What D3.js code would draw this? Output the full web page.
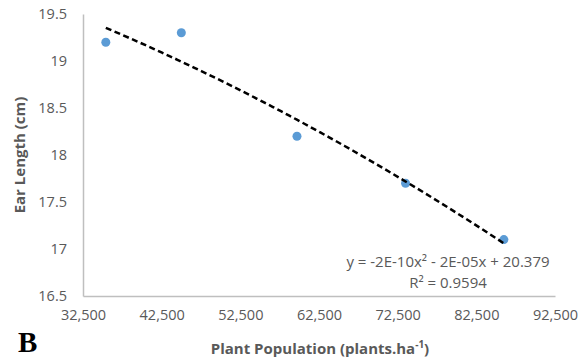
<!DOCTYPE html>
<html>
<head>
<meta charset="utf-8">
<script src="https://cdn.jsdelivr.net/npm/d3@7"></script>
<style>
  body { margin: 0; background: #fff; }
  text { font-family: "Open Sans", sans-serif; }
</style>
</head>
<body>
<svg id="chart" width="588" height="364"></svg>
<script>
// Data
const population = [35400, 45000, 59700, 73500, 86000];
const earLength = [19.2, 19.3, 18.2, 17.7, 17.1];
const xTicks = [32500, 42500, 52500, 62500, 72500, 82500, 92500];
const yTicks = [16.5, 17, 17.5, 18, 18.5, 19, 19.5];
const equation = ['y = -2E-10x\u00b2 - 2E-05x + 20.379', 'R\u00b2 = 0.9594'];

const margin = {left: 83, right: 33, top: 14, bottom: 68},
    width = 588 - margin.left - margin.right,
    height = 364 - margin.top - margin.bottom;

const svg = d3.select('#chart');
const g = svg.append('g').attr('transform', `translate(${margin.left},${margin.top})`);

const x = d3.scaleLinear().domain([32500, 92500]).range([0, width]);
const y = d3.scaleLinear().domain([16.5, 19.5]).range([height, 0]);

// Axes
const xAxis = g.append('g')
    .attr('transform', `translate(0,${height})`)
    .call(d3.axisBottom(x).tickValues(xTicks).tickSize(0).tickPadding(14)
      .tickFormat(d3.format(',')));
const yAxis = g.append('g')
    .call(d3.axisLeft(y).tickValues(yTicks).tickSize(0).tickPadding(16)
      .tickFormat(d => d3.format('')(d)));

[xAxis, yAxis].forEach(a => {
  a.select('.domain').attr('stroke', '#bfbfbf').attr('stroke-width', 1.5);
  a.selectAll('text').attr('fill', '#595959').style('font-size', '14.5px')
      .style('font-family', '"Open Sans", sans-serif');
});

// Quadratic least-squares trendline
function quadFit(xs, ys) {
  const s = [0, 0, 0, 0, 0], t = [0, 0, 0];
  xs.forEach((xv, i) => {
    const u = xv / 1e4;
    for (let k = 0; k < 5; k++) s[k] += Math.pow(u, k);
    for (let k = 0; k < 3; k++) t[k] += ys[i] * Math.pow(u, k);
  });
  const A = [[s[0], s[1], s[2], t[0]], [s[1], s[2], s[3], t[1]], [s[2], s[3], s[4], t[2]]];
  for (let i = 0; i < 3; i++) {
    for (let j = i + 1; j < 3; j++) {
      const f = A[j][i] / A[i][i];
      for (let k = i; k < 4; k++) A[j][k] -= f * A[i][k];
    }
  }
  const c = [0, 0, 0];
  for (let i = 2; i >= 0; i--) {
    let v = A[i][3];
    for (let k = i + 1; k < 3; k++) v -= A[i][k] * c[k];
    c[i] = v / A[i][i];
  }
  return xv => { const u = xv / 1e4; return c[0] + c[1] * u + c[2] * u * u; };
}
const fit = quadFit(population, earLength);
const fitPts = d3.range(0, 51).map(i => {
  const xv = population[0] + (population[population.length - 1] - population[0]) * i / 50;
  return [xv, fit(xv)];
});

// Points
g.selectAll('circle')
    .data(population)
    .enter()
    .append('circle')
    .attr('cx', d => x(d))
    .attr('cy', (d, i) => y(earLength[i]))
    .attr('r', 4.5)
    .attr('fill', '#5b9bd5');

g.append('path')
    .datum(fitPts)
    .attr('fill', 'none')
    .attr('stroke', '#000')
    .attr('stroke-width', 2.5)
    .attr('stroke-dasharray', '6,3.5')
    .attr('d', d3.line().x(d => x(d[0])).y(d => y(d[1])));

// Equation label
g.selectAll('.eq')
    .data(equation)
    .enter()
    .append('text')
    .attr('class', 'eq')
    .attr('x', 365)
    .attr('y', (d, i) => 253 + i * 21)
    .attr('text-anchor', 'middle')
    .attr('fill', '#595959')
    .style('font-size', '15px')
    .text(d => d);

// Axis titles
const xt = svg.append('text')
    .attr('x', margin.left + width / 2 + 1)
    .attr('y', 354)
    .attr('text-anchor', 'middle')
    .attr('fill', '#595959')
    .style('font-size', '15px')
    .style('font-weight', 'bold');
xt.append('tspan').text('Plant Population (plants.ha');
xt.append('tspan').attr('dy', -6).style('font-size', '10px').text('-1');
xt.append('tspan').attr('dy', 6).text(')');

svg.append('text')
    .attr('transform', `translate(25,${margin.top + height / 2}) rotate(-90)`)
    .attr('text-anchor', 'middle')
    .attr('fill', '#595959')
    .style('font-size', '15px')
    .style('font-weight', 'bold')
    .text('Ear Length (cm)');

svg.append('text')
    .attr('x', 18)
    .attr('y', 352)
    .style('font-family', '"Liberation Serif", serif')
    .style('font-size', '29px')
    .style('font-weight', 'bold')
    .attr('fill', '#000')
    .text('B');
</script>
</body>
</html>
